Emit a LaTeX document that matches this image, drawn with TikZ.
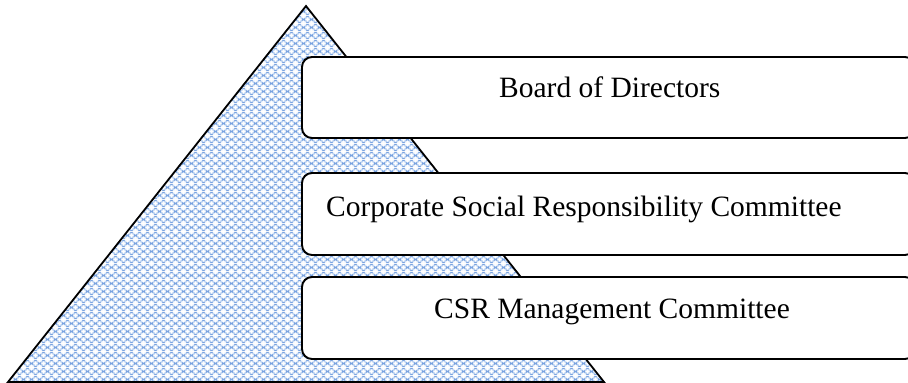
\documentclass[tikz,border=0pt]{standalone}
\usepackage{fontspec}
\setmainfont{Liberation Serif}
\usetikzlibrary{patterns.meta}

\definecolor{tileblue}{RGB}{120,162,224}
\definecolor{tilelight}{RGB}{200,219,245}

% light blue tile with white plus marks on a diagonal lattice
\tikzdeclarepattern{
  name=bluepluses,
  type=colored,
  bottom left={(0pt,0pt)},
  top right={(8pt,8pt)},
  tile size={(8pt,8pt)},
  code={
    \fill[tileblue] (0pt,0pt) rectangle (8pt,8pt);
    \foreach \cx/\cy in {4/4, 0/0, 8/0, 0/8, 8/8} {
      \fill[tilelight] (\cx pt-2.4pt,\cy pt-2.4pt) rectangle (\cx pt+2.4pt,\cy pt+2.4pt);
      \fill[white] (\cx pt-0.8pt,\cy pt-2.4pt) rectangle (\cx pt+0.8pt,\cy pt+2.4pt);
      \fill[white] (\cx pt-2.4pt,\cy pt-0.8pt) rectangle (\cx pt+2.4pt,\cy pt+0.8pt);
    }
  }
}

\tikzset{
  pyramid/.style={draw=black, line width=1.8pt, line join=miter,
    pattern=bluepluses},
  tierbox/.style={draw=black, fill=white, line width=1.9pt,
    rounded corners=10pt, rectangle, inner sep=0pt},
  tierlabel/.style={font=\fontsize{29.5}{32}\selectfont, inner sep=0pt,
    anchor=base west},
}

\begin{document}
\begin{tikzpicture}[x=1pt, y=-1pt]
  \clip (0,0) rectangle (908,383);

  % the pyramid behind the three tiers
  \coordinate (apex) at (306,6);
  \coordinate (baseL) at (8,382);
  \coordinate (baseR) at (604,382);
  \draw[pyramid] (baseL) -- (apex) -- (baseR) -- cycle;

  % tiers, running off the right edge
  \node[tierbox, minimum width=613pt, minimum height=81pt] (board) at (608.5,97.5) {};
  \node[tierbox, minimum width=613pt, minimum height=82pt] (csrc) at (608.5,214) {};
  \node[tierbox, minimum width=613pt, minimum height=82pt] (mgmt) at (608.5,318) {};

  \node[tierlabel] (boardtext) at (499,97) {Board of Directors};
  \node[tierlabel] (csrctext) at (326,216) {Corporate Social Responsibility Committee};
  \node[tierlabel] (mgmttext) at (434,318) {CSR Management Committee};
\end{tikzpicture}
\end{document}
